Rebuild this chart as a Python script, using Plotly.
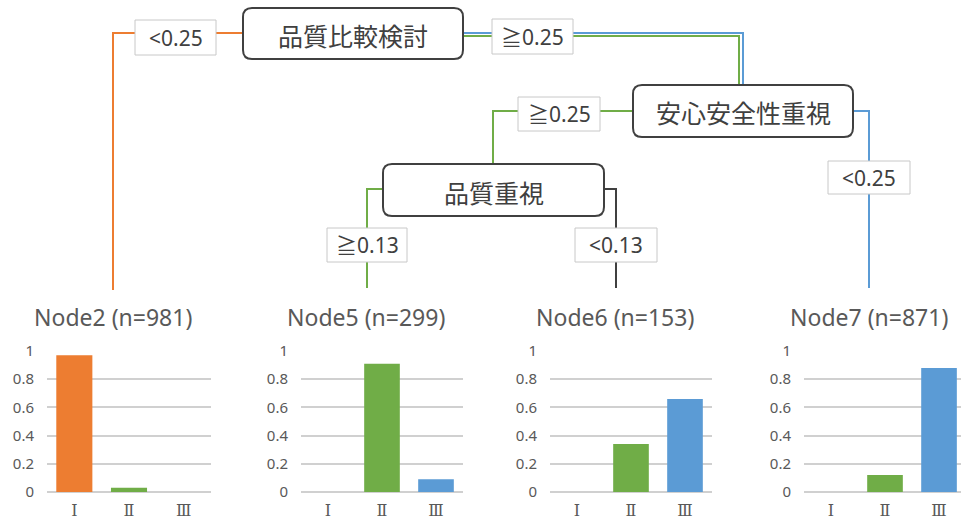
import plotly.graph_objects as go

# ---- data ----
categories = ["Ⅰ", "Ⅱ", "Ⅲ"]
node_names = ["Node2", "Node5", "Node6", "Node7"]
node_n = [981, 299, 153, 871]
node2_vals = [0.97, 0.03, 0.0]
node5_vals = [0.0, 0.91, 0.09]
node6_vals = [0.0, 0.34, 0.66]
node7_vals = [0.0, 0.12, 0.88]
split_nodes = ["品質比較検討", "安心安全性重視", "品質重視"]
split_labels = ["<0.25", "≧0.25", "≧0.25", "≧0.13", "<0.13", "<0.25"]
y_ticks = [0, 0.2, 0.4, 0.6, 0.8, 1]
y_tick_text = ["0", "0.2", "0.4", "0.6", "0.8", "1"]

bar_colors = ["#ED7D31", "#70AD47", "#5B9BD5"]
W, H = 961, 520

fig = go.Figure()

all_vals = [node2_vals, node5_vals, node6_vals, node7_vals]
# plot areas in pixels (left, right)
plot_px = [(47, 211), (301, 463), (550, 712), (804, 961)]
x_ranges = [[-0.5, 2.5], [-0.5, 2.5], [-0.5, 2.5], [-0.5, 2.407]]
y_top, y_bot = 351, 492

for i, vals in enumerate(all_vals):
    ax = "" if i == 0 else str(i + 1)
    fig.add_trace(go.Bar(
        x=categories, y=vals, marker=dict(color=bar_colors, line=dict(width=0)),
        xaxis="x" + ax, yaxis="y" + ax, showlegend=False, hoverinfo="x+y"))
    l, r = plot_px[i]
    fig.layout["xaxis" + ax] = dict(
        domain=[l / W, r / W], anchor="y" + ax, range=x_ranges[i],
        showgrid=False, zeroline=False, showline=False, ticks="", automargin=False,
        tickfont=dict(family="DejaVu Serif, Noto Sans CJK JP", size=16, color="#595959"),
        ticklabelstandoff=7, fixedrange=True)
    fig.layout["yaxis" + ax] = dict(
        domain=[1 - y_bot / H, 1 - y_top / H], anchor="x" + ax, range=[0, 1],
        tickvals=y_ticks, ticktext=y_tick_text, showgrid=True, automargin=False,
        gridcolor="#d0d0d0", gridwidth=1.5, zeroline=True, zerolinecolor="#d0d0d0",
        zerolinewidth=1.5, showline=False, ticks="",
        tickfont=dict(family="Noto Sans, Open Sans", size=15, color="#595959"),
        ticklabelstandoff=12, fixedrange=True)

# overlay axis in pixel coordinates for the tree diagram
fig.update_layout(
    xaxis5=dict(domain=[0, 1], range=[0, W], anchor="y5", visible=False, fixedrange=True,
                automargin=False),
    yaxis5=dict(domain=[0, 1], range=[H, 0], anchor="x5", visible=False, fixedrange=True,
                automargin=False),
)

def rrect(x0, y0, x1, y1, r):
    return (f"M {x0+r},{y0} L {x1-r},{y0} Q {x1},{y0} {x1},{y0+r} "
            f"L {x1},{y1-r} Q {x1},{y1} {x1-r},{y1} L {x0+r},{y1} "
            f"Q {x0},{y1} {x0},{y1-r} L {x0},{y0+r} Q {x0},{y0} {x0+r},{y0} Z")

shapes = []
def line_path(p, color):
    shapes.append(dict(type="path", path=p, xref="x5", yref="y5",
                       line=dict(color=color, width=2), fillcolor="rgba(0,0,0,0)"))

ORANGE, GREEN, BLUE, DARK = "#ED7D31", "#70AD47", "#5B9BD5", "#404040"
line_path("M 113,290 L 113,33 L 243,33", ORANGE)
line_path("M 463,33 L 743,33 L 743,85", BLUE)
line_path("M 463,36 L 739,36 L 739,85", GREEN)
line_path("M 633,111 L 493,111 L 493,164", GREEN)
line_path("M 853,111 L 869,111 L 869,288", BLUE)
line_path("M 383,189 L 367,189 L 367,288", GREEN)
line_path("M 604,189 L 616,189 L 616,288", DARK)

# split node boxes
node_boxes = [(243, 8, 463, 59), (633, 85, 853, 137), (383, 164, 604, 216)]
node_text_pos = [(353, 35), (743, 112), (494, 192)]
for (x0, y0, x1, y1) in node_boxes:
    shapes.append(dict(type="path", path=rrect(x0, y0, x1, y1, 9), xref="x5", yref="y5",
                       line=dict(color="#404040", width=2), fillcolor="white"))

# split label boxes
label_boxes = [(135, 20, 216, 55), (492, 19, 573, 54), (518, 97, 600, 131),
               (327, 228, 407, 262), (575, 228, 657, 262), (828, 161, 910, 194)]
for (x0, y0, x1, y1) in label_boxes:
    shapes.append(dict(type="rect", x0=x0, y0=y0, x1=x1, y1=y1, xref="x5", yref="y5",
                       line=dict(color="#c8c8c8", width=1), fillcolor="white"))

annotations = []
for txt, (cx, cy) in zip(split_nodes, node_text_pos):
    annotations.append(dict(text=txt, x=cx, y=cy, xref="x5", yref="y5", showarrow=False,
                            font=dict(family="Noto Sans CJK JP", size=25, color="#404040"),
                            xanchor="center", yanchor="middle"))
for txt, (x0, y0, x1, y1) in zip(split_labels, label_boxes):
    annotations.append(dict(text=txt, x=(x0 + x1) / 2, y=(y0 + y1) / 2, xref="x5", yref="y5",
                            showarrow=False,
                            font=dict(family="Noto Sans, Noto Sans CJK JP", size=21, color="#404040"),
                            xanchor="center", yanchor="middle"))
title_x = [113, 366, 615, 869]
for name, n, tx in zip(node_names, node_n, title_x):
    annotations.append(dict(text=f"{name} (n={n})", x=tx, y=317, xref="x5", yref="y5",
                            showarrow=False,
                            font=dict(family="Noto Sans, Open Sans", size=23, color="#595959"),
                            xanchor="center", yanchor="middle"))

fig.update_layout(
    width=W, height=H, margin=dict(l=0, r=0, t=0, b=0, pad=0, autoexpand=False),
    paper_bgcolor="white", plot_bgcolor="rgba(0,0,0,0)",
    bargap=0.34, shapes=shapes, annotations=annotations, showlegend=False,
)

fig.write_html("out.html", config={"displayModeBar": False})
